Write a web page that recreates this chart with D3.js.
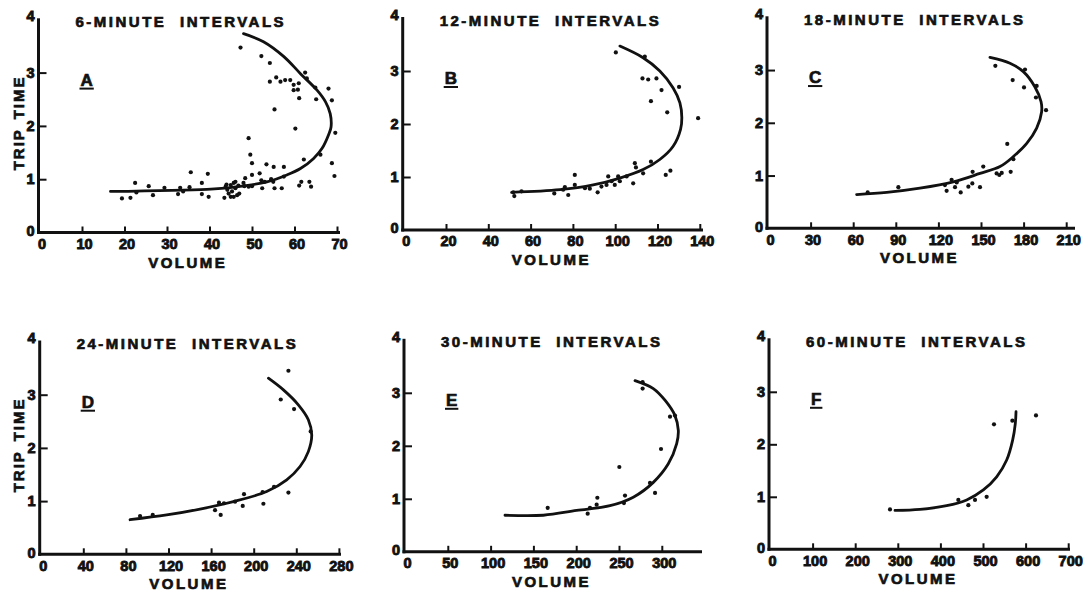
<!DOCTYPE html>
<html><head><meta charset="utf-8">
<script src="https://cdn.jsdelivr.net/npm/d3@7"></script>
<style>
html,body{margin:0;padding:0;background:#fff;}
svg{display:block;}
text{font-family:"Liberation Sans",Arial,sans-serif;font-weight:bold;fill:#111;stroke:#111;stroke-width:0.7px;}
</style></head><body>
<svg id="chart" width="1090" height="594"></svg>
<script>
// ---------------- DATA ----------------
const panelLetters = ["A","B","C","D","E","F"];
const panelTitles = ["6-MINUTE INTERVALS","12-MINUTE INTERVALS","18-MINUTE INTERVALS",
                     "24-MINUTE INTERVALS","30-MINUTE INTERVALS","60-MINUTE INTERVALS"];
const xAxisLabel = "VOLUME";
const yAxisLabel = "TRIP TIME";
const tripTimeTicks = [0,1,2,3,4];
const volumeTicksA = [0,10,20,30,40,50,60,70];
const volumeTicksB = [0,20,40,60,80,100,120,140];
const volumeTicksC = [0,30,60,90,120,150,180,210];
const volumeTicksD = [0,40,80,120,160,200,240,280];
const volumeTicksE = [0,50,100,150,200,250,300];
const volumeTicksF = [0,100,200,300,400,500,600,700];

// observed points [volume, trip time]
const pointsA = [[47.3,3.47],[52.2,3.31],[54.2,3.18],[54.2,2.83],[55.7,2.91],[56.7,2.83],[57.8,2.86],[59.0,2.86],
 [59.8,2.77],[61.0,2.80],[59.8,2.67],[60.8,2.68],[62.5,3.00],[62.9,2.89],[61.1,2.52],[64.9,2.72],[65.1,2.50],
 [68.0,2.70],[68.8,2.48],[55.3,2.31],[60.2,1.95],[69.6,1.87],[49.2,1.77],[49.6,1.46],[50.0,1.30],[53.4,1.28],
 [55.1,1.23],[57.5,1.23],[62.2,1.37],[66.1,1.46],[68.8,1.30],[69.4,1.06],[35.6,1.13],[39.6,1.10],[22.5,0.93],
 [25.7,0.87],[29.4,0.84],[33.1,0.84],[35.3,0.85],[38.2,0.93],[19.4,0.64],[21.4,0.65],[26.7,0.70],[32.6,0.72],
 [38.2,0.72],[39.8,0.67],[22.8,0.75],[33.8,0.77],[43.8,0.86],[44.2,0.80],[45.0,0.89],[45.7,0.93],[46.1,0.83],
 [45.0,0.67],[45.7,0.67],[46.5,0.70],[43.5,0.65],[44.5,0.73],[45.3,0.77],[46.1,0.95],[44.0,0.90],[46.8,0.88],
 [47.0,0.73],[48.4,1.02],[48.2,0.87],[50.0,1.08],[51.8,1.11],[49.2,0.86],[50.0,0.87],[52.4,0.83],[53.0,0.95],
 [55.0,0.95],[55.3,0.83],[57.0,0.83],[57.5,1.05],[61.1,0.88],[61.6,0.95],[63.5,0.95],[63.9,0.86],[48.0,0.93],
 [52.2,0.98],[54.5,1.00]];
const pointsB = [[100.3,3.35],[114.0,3.27],[112.9,2.86],[115.6,2.84],[119.5,2.86],[121.9,2.64],[130.2,2.70],
 [116.9,2.43],[124.6,2.22],[139.2,2.11],[116.9,1.29],[109.3,1.26],[109.8,1.18],[113.2,1.07],[123.9,1.04],
 [126.1,1.12],[108.5,0.88],[105.4,1.01],[101.4,1.01],[99.8,0.85],[96.7,1.01],[95.9,0.85],[98.3,0.92],[93.5,0.82],
 [91.7,0.71],[88.0,0.78],[85.7,0.79],[80.9,1.04],[80.9,0.85],[77.8,0.66],[76.2,0.81],[71.2,0.69],[55.7,0.73],
 [51.8,0.71],[52.3,0.64],[75.4,0.76],[102.2,0.92]];
const pointsC = [[70.2,0.68],[91.8,0.78],[124.6,0.82],[125.8,0.71],[129.3,0.92],[131.7,0.78],[132.9,0.87],
 [135.7,0.68],[141.1,0.79],[144.1,1.07],[143.9,0.85],[149.3,0.78],[151.6,1.17],[161.0,1.04],[164.6,1.05],
 [162.9,1.01],[170.9,1.07],[168.5,1.60],[172.8,1.31],[160.1,3.08],[172.3,2.81],[180.3,2.67],[181.0,3.01],
 [189.2,2.70],[188.7,2.48],[195.8,2.24]];
const pointsD = [[93.3,0.72],[105.2,0.74],[163.7,0.83],[167.4,0.97],[169.0,0.74],[172.1,0.96],[182.5,0.99],
 [189.7,0.91],[190.9,1.13],[208.4,1.17],[209.1,0.95],[219.1,1.27],[232.6,1.16],[225.4,2.91],[232.6,3.45],
 [237.9,2.73],[253.5,2.31]];
const pointsE = [[166.7,0.83],[213.4,0.72],[216.1,0.83],[223.9,0.89],[224.7,1.02],[250.4,1.60],[257.0,1.06],
 [255.8,0.92],[286.2,1.30],[292.1,1.11],[299.1,1.94],[309.6,2.55],[315.4,2.57],[277.6,3.20],[277.6,3.08]];
const pointsF = [[281.7,0.76],[442.1,0.94],[465.6,0.84],[481.2,0.94],[508.6,1.00],[525.8,2.38],[568.9,2.45],
 [624.4,2.55]];

// fitted curves [volume, trip time]
const curveA = [[16.7,0.77],[39.4,0.81],[45.7,0.85],[53.5,0.95],[58.2,1.08],[61.4,1.20],[64.5,1.39],[66.5,1.58],
 [68.0,1.83],[68.6,1.98],[68.4,2.23],[67.3,2.45],[65.3,2.67],[61.4,2.98],[57.5,3.30],[52.7,3.58],[48.0,3.73]];
const curveB = [[51.0,0.71],[73.9,0.76],[89.6,0.85],[102.2,0.98],[113.2,1.14],[121.1,1.33],[127.4,1.58],
 [130.9,1.90],[131.5,2.12],[130.6,2.40],[127.4,2.68],[121.1,3.00],[113.2,3.25],[102.2,3.47]];
const curveC = [[62.4,0.64],[83.6,0.68],[107.0,0.76],[130.5,0.88],[149.3,1.04],[163.4,1.17],[172.8,1.36],
 [182.2,1.61],[189.2,1.90],[192.7,2.21],[192.3,2.40],[188.0,2.68],[179.8,2.97],[170.4,3.13],[156.3,3.24]];
const curveD = [[83.9,0.65],[118.3,0.74],[149.6,0.85],[180.9,0.99],[212.2,1.18],[231.0,1.40],[243.5,1.65],
 [251.3,1.93],[254.5,2.24],[251.3,2.53],[241.9,2.81],[227.9,3.09],[213.8,3.31]];
const curveE = [[116.8,0.69],[161.6,0.69],[200.5,0.78],[239.5,0.87],[266.7,1.03],[290.1,1.31],[307.6,1.66],
 [317.4,2.04],[319.3,2.29],[315.4,2.57],[303.7,2.86],[290.1,3.08],[268.7,3.23]];
const curveF = [[293.4,0.74],[352.1,0.76],[414.7,0.83],[461.7,0.94],[500.8,1.13],[532.1,1.38],[555.6,1.70],
 [569.6,2.08],[575.9,2.40],[577.5,2.62]];

// ---------------- LAYOUT ----------------
const frames = [
  {left:39.5, right:337.0, bottom:232.5, top:19.3, axisEnd:340, yLabel:true},
  {left:403.7,right:699.8, bottom:230.0, top:18.0, axisEnd:703, yLabel:false},
  {left:768.0,right:1066.2,bottom:228.3, top:17.3, axisEnd:1075,yLabel:false},
  {left:40.7, right:338.9, bottom:554.3, top:341.5, axisEnd:341, yLabel:true},
  {left:405.0,right:661.8, bottom:551.8, top:339.8, axisEnd:702, yLabel:false},
  {left:770.0,right:1068.2,bottom:549.3, top:339.3, axisEnd:1070,yLabel:false}
];
const tickSets = [volumeTicksA,volumeTicksB,volumeTicksC,volumeTicksD,volumeTicksE,volumeTicksF];
const pointSets = [pointsA,pointsB,pointsC,pointsD,pointsE,pointsF];
const curveSets = [curveA,curveB,curveC,curveD,curveE,curveF];
const ink = "#111";
const fontFam = "Liberation Sans, Arial, sans-serif";

const svg = d3.select("#chart");
svg.append("rect").attr("width",1090).attr("height",594).attr("fill","#fff");

frames.forEach((f, i) => {
  const ticks = tickSets[i];
  const x = d3.scaleLinear().domain([0, d3.max(ticks)]).range([f.left, f.right]);
  const y = d3.scaleLinear().domain([0, 4]).range([f.bottom, f.top]);
  const g = svg.append("g");

  // x axis
  const gx = g.append("g").attr("transform", `translate(0,${f.bottom})`)
    .call(d3.axisBottom(x).tickValues(ticks).tickSize(-6).tickPadding(6).tickFormat(d3.format("d")))
    .attr("font-size", 14.5).attr("font-family", fontFam);
  gx.select(".domain").remove();
  gx.selectAll(".tick line").attr("stroke", ink).attr("stroke-width", 2)
    .filter(d => d === 0).remove();
  gx.selectAll(".tick text").attr("fill", ink).attr("dx", 2).style("stroke-width", "0.9px");

  // y axis
  const gy = g.append("g").attr("transform", `translate(${f.left},0)`)
    .call(d3.axisLeft(y).tickValues(tripTimeTicks).tickSize(-7).tickPadding(5).tickFormat(d3.format("d")))
    .attr("font-size", 14.5).attr("font-family", fontFam);
  gy.select(".domain").remove();
  gy.selectAll(".tick line").attr("stroke", ink).attr("stroke-width", 2)
    .filter(d => d === 0 || d === 4).remove();
  gy.selectAll(".tick text").attr("fill", ink).style("stroke-width", "0.9px")
    .attr("dy", d => d === 4 ? "0.1em" : (d === 0 ? "0.2em" : "0.32em"));

  // thick axis lines
  g.append("line").attr("x1", f.left - 2.5).attr("x2", f.axisEnd).attr("y1", f.bottom).attr("y2", f.bottom)
    .attr("stroke", ink).attr("stroke-width", 3);
  g.append("line").attr("x1", f.left - 1).attr("x2", f.left - 1).attr("y1", f.bottom + 1.5).attr("y2", f.top - 1)
    .attr("stroke", ink).attr("stroke-width", 3);

  // title
  g.append("text").attr("x", f.left + 36).attr("y", f.top + 7.5)
    .attr("font-size", 15).attr("letter-spacing", 2.5).attr("word-spacing", 7)
    .text(panelTitles[i]);

  // panel letter with underline
  const lt = g.append("text").attr("x", f.left + 41).attr("y", y(3) + 13)
    .attr("font-size", 17).text(panelLetters[i]);
  const bb = lt.node().getBBox();
  g.append("line").attr("x1", bb.x - 1).attr("x2", bb.x + bb.width + 1)
    .attr("y1", y(3) + 16).attr("y2", y(3) + 16).attr("stroke", ink).attr("stroke-width", 2);

  // x axis label
  g.append("text").attr("x", (f.left + f.axisEnd) / 2 - 2).attr("y", f.bottom + 35)
    .attr("text-anchor", "middle").attr("font-size", 15).attr("letter-spacing", 2.5)
    .text(xAxisLabel);

  // y axis label
  if (f.yLabel) {
    g.append("text").attr("transform", `translate(24,${y(2) - 3}) rotate(-90)`)
      .attr("text-anchor", "middle").attr("font-size", 15).attr("letter-spacing", 2).attr("word-spacing", 3)
      .text(yAxisLabel);
  }

  // fitted curve
  g.append("path").datum(curveSets[i])
    .attr("fill", "none").attr("stroke", ink).attr("stroke-width", 2.8).attr("stroke-linecap", "round")
    .attr("d", d3.line().x(d => x(d[0])).y(d => y(d[1])).curve(d3.curveCatmullRom.alpha(0.5)));

  // points
  g.selectAll("circle.pt").data(pointSets[i]).enter().append("circle").attr("class", "pt")
    .attr("cx", d => x(d[0])).attr("cy", d => y(d[1])).attr("r", 2.1).attr("fill", ink);
});
</script>
</body></html>
